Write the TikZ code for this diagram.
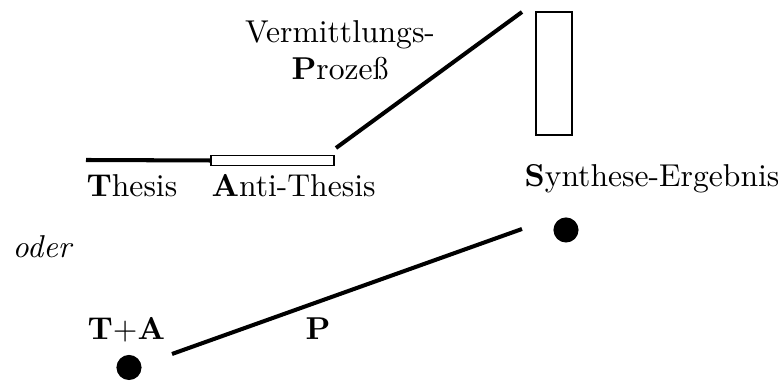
\documentclass[tikz,border=0pt]{standalone}
\usetikzlibrary{positioning}
\begin{document}
\begin{tikzpicture}[x=0.3226pt,y=-0.3226pt,
    every node/.style={font=\fontsize{10.2pt}{12.2pt}\selectfont},
    bar/.style={draw,inner sep=0pt,outer sep=0pt},
    dot/.style={circle,fill,inner sep=0pt,minimum size=8.1pt},
    lbl/.style={anchor=base west,inner sep=0pt}]
    \useasboundingbox (0,0) rectangle (778,381);

    \node[bar,minimum width=39.7pt,minimum height=3.4pt] (anti) at (272.5,160.5) {};
    \node[bar,minimum width=11.6pt,minimum height=39.7pt] (synbox) at (554,73.5) {};
    \node[dot] (syn) at (566,230) {};
    \node[dot] (ta) at (129,367.5) {};

    \coordinate (t0) at (86,160);
    \coordinate (p0) at (336,148);
    \coordinate (p1) at (522,12);
    \coordinate (q0) at (172,354);
    \coordinate (q1) at (522,229);

    \path[line width=1.3pt]
    (t0) edge (anti.west)
    (p0) edge (p1)
    (q0) edge (q1)
    ;

    \node[lbl] (thesis) at (86,197) {\textbf{T}hesis};
    \node[lbl] (antithesis) at (211,197) {\textbf{A}nti-Thesis};
    \node[lbl] (synthese) at (524,187) {\textbf{S}ynthese-Ergebnis};
    \node[anchor=base,inner sep=0pt,align=center] (proz) at (340,80) {Vermittlungs-\\\textbf{P}roze\ss};
    \node[lbl] (oder) at (12,258) {\textit{oder}};
    \node[lbl] (tpa) at (87,340) {\textbf{T}+\textbf{A}};
    \node[lbl] (pp) at (305,340) {\textbf{P}};
\end{tikzpicture}
\end{document}
